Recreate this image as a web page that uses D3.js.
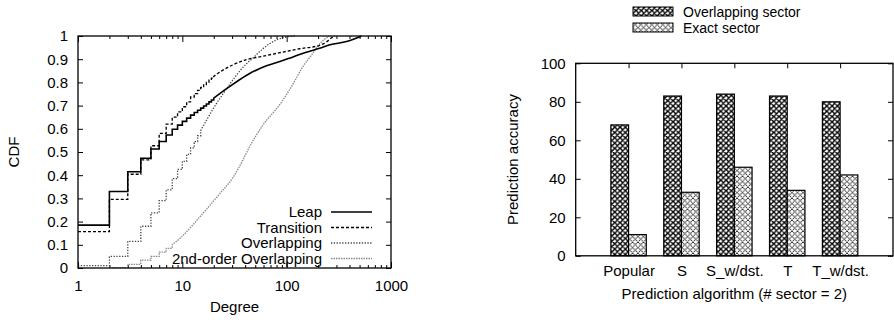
<!DOCTYPE html>
<html>
<head>
<meta charset="utf-8">
<script src="https://cdn.jsdelivr.net/npm/d3@7/dist/d3.min.js"></script>
<style>
  html, body { margin: 0; padding: 0; background: #fff; }
  svg { display: block; font-family: "Liberation Sans", Arial, Helvetica, sans-serif; }
  text { fill: #000; }
</style>
</head>
<body>
<svg id="chart" width="894" height="320"></svg>
<script>
// ---------- Left panel: CDF of degree (log x) ----------
// Integer-degree part of each CDF (drawn as steps), then the continuous tail.
const leapStepDeg  = [1, 2, 3, 4, 5, 6, 7, 8, 9, 10, 11, 12, 13, 14, 15, 16, 17, 18, 19, 20];
const leapStepCdf  = [0.185, 0.33, 0.415, 0.473, 0.513, 0.545, 0.573, 0.598, 0.616, 0.632, 0.646, 0.659, 0.670, 0.680, 0.689, 0.698, 0.707, 0.716, 0.724, 0.732];
const leapTailDeg  = [20, 27, 41, 64, 86, 115, 154, 207, 260, 375, 520];
const leapTailCdf  = [0.732, 0.775, 0.83, 0.872, 0.89, 0.91, 0.93, 0.947, 0.962, 0.976, 1.0];

const transStepDeg = [1, 2, 3, 4, 5, 6, 7, 8, 9, 10, 11, 12, 13, 14, 15, 16, 17, 18, 19, 20];
const transStepCdf = [0.157, 0.296, 0.404, 0.466, 0.527, 0.58, 0.62, 0.65, 0.673, 0.695, 0.716, 0.737, 0.752, 0.766, 0.778, 0.789, 0.80, 0.81, 0.818, 0.826];
const transTailDeg = [20, 24.5, 30, 41, 55, 86, 133, 207, 240, 265, 290];
const transTailCdf = [0.826, 0.853, 0.874, 0.898, 0.91, 0.928, 0.945, 0.96, 0.974, 0.99, 1.0];

const overStepDeg  = [1, 2, 3, 4, 5, 6, 7, 8, 9, 10, 11, 12, 13, 14, 15];
const overStepCdf  = [0.01, 0.05, 0.115, 0.18, 0.238, 0.29, 0.337, 0.385, 0.425, 0.46, 0.49, 0.518, 0.545, 0.57, 0.592];
const overTailDeg  = [15, 20, 26.5, 31, 41, 47.5, 59, 80, 100, 120];
const overTailCdf  = [0.592, 0.69, 0.772, 0.815, 0.88, 0.905, 0.945, 0.983, 0.996, 1.0];

const over2StepDeg = [2, 3, 4, 5, 6, 7, 8];
const over2StepCdf = [0.002, 0.016, 0.034, 0.05, 0.068, 0.085, 0.1];
const over2TailDeg = [8, 9.5, 14.7, 22.8, 30.6, 38, 42.6, 59, 86, 114, 143, 178, 207, 256];
const over2TailCdf = [0.1, 0.128, 0.22, 0.32, 0.39, 0.465, 0.51, 0.615, 0.705, 0.79, 0.868, 0.925, 0.966, 1.0];

const cdfSeries = ["Leap", "Transition", "Overlapping", "2nd-order Overlapping"];
const cdfYTicks = [0, 0.1, 0.2, 0.3, 0.4, 0.5, 0.6, 0.7, 0.8, 0.9, 1];
const cdfXTicks = [1, 10, 100, 1000];

// ---------- Right panel: prediction accuracy ----------
const algorithms   = ["Popular", "S", "S_w/dst.", "T", "T_w/dst."];
const overlapAcc   = [68, 83, 84, 83, 80];
const exactAcc     = [11, 33, 46, 34, 42];
const barSeries    = ["Overlapping sector", "Exact sector"];
const accTicks     = [0, 20, 40, 60, 80, 100];

const svg = d3.select("#chart");
const FS = 15;

// ---------- patterns ----------
const defs = svg.append("defs");
const p1 = defs.append("pattern").attr("id", "patOverlap")
  .attr("patternUnits", "userSpaceOnUse").attr("width", 5.3).attr("height", 5.3);
p1.append("rect").attr("width", 5.3).attr("height", 5.3).attr("fill", "#fff");
p1.append("path").attr("d", "M0,0L5.3,5.3M5.3,0L0,5.3M-1,4.3L1,6.3M4.3,-1L6.3,1")
  .attr("stroke", "#000").attr("stroke-width", 1.4).attr("fill", "none");

const p2 = defs.append("pattern").attr("id", "patExact")
  .attr("patternUnits", "userSpaceOnUse").attr("width", 5.5).attr("height", 5.5);
p2.append("rect").attr("width", 5.5).attr("height", 5.5).attr("fill", "#fff");
p2.append("path").attr("d", "M0,0L5.5,5.5M5.5,0L0,5.5")
  .attr("stroke", "#000").attr("stroke-width", 1.1).attr("stroke-dasharray", "1,0.8").attr("fill", "none");

// ================= Left panel =================
const L = { left: 78, right: 391, top: 36, bottom: 268 };
const x1 = d3.scaleLog().domain([1, 1000]).range([L.left, L.right]);
const y1 = d3.scaleLinear().domain([0, 1]).range([L.bottom, L.top]);

const gL = svg.append("g");

// y axis (ticks inside, mirrored on right)
const yAxL = d3.axisLeft(y1).tickValues(cdfYTicks).tickSizeInner(-5).tickSizeOuter(0).tickPadding(10)
  .tickFormat(d => d === 0 || d === 1 ? d3.format("d")(d) : d3.format(".1f")(d));
gL.append("g").attr("transform", `translate(${L.left},0)`).call(yAxL)
  .call(g => g.select(".domain").remove())
  .call(g => g.selectAll("text").attr("font-size", FS).attr("font-family", null))
  .call(g => g.selectAll("line").attr("stroke", "#000"));
const yAxR = d3.axisRight(y1).tickValues(cdfYTicks).tickSizeInner(-5).tickSizeOuter(0).tickFormat("");
gL.append("g").attr("transform", `translate(${L.right},0)`).call(yAxR)
  .call(g => g.select(".domain").remove());

// x axis: major + minor log ticks, bottom and top
const minor = x1.ticks().filter(d => !cdfXTicks.includes(d));
const xAxB = d3.axisBottom(x1).tickValues(cdfXTicks).tickSizeInner(-6).tickSizeOuter(0).tickPadding(12)
  .tickFormat(d3.format("d"));
gL.append("g").attr("transform", `translate(0,${L.bottom})`).call(xAxB)
  .call(g => g.select(".domain").remove())
  .call(g => g.selectAll("text").attr("font-size", FS).attr("font-family", null));
gL.append("g").attr("transform", `translate(0,${L.bottom})`)
  .call(d3.axisBottom(x1).tickValues(minor).tickSizeInner(-3).tickSizeOuter(0).tickFormat(""))
  .call(g => g.select(".domain").remove());
gL.append("g").attr("transform", `translate(0,${L.top})`)
  .call(d3.axisTop(x1).tickValues(cdfXTicks).tickSizeInner(-6).tickSizeOuter(0).tickFormat(""))
  .call(g => g.select(".domain").remove());
gL.append("g").attr("transform", `translate(0,${L.top})`)
  .call(d3.axisTop(x1).tickValues(minor).tickSizeInner(-3).tickSizeOuter(0).tickFormat(""))
  .call(g => g.select(".domain").remove());

// axis titles
gL.append("text").attr("x", (L.left + L.right) / 2).attr("y", 312)
  .attr("text-anchor", "middle").attr("font-size", FS).text("Degree");
gL.append("text").attr("transform", `translate(19,${(L.top + L.bottom) / 2}) rotate(-90)`)
  .attr("text-anchor", "middle").attr("font-size", FS).text("CDF");

// curves
const styles = [
  { stroke: "#000", width: 1.6, dash: null },
  { stroke: "#000", width: 1.3, dash: "3,2" },
  { stroke: "#444", width: 1.3, dash: "1.3,1.5" },
  { stroke: "#8a8a8a", width: 1.3, dash: "1.5,1" }
];
const zip = (a, b) => a.map((d, i) => [d, b[i]]);
const curves = [
  { steps: zip(leapStepDeg, leapStepCdf),   tail: zip(leapTailDeg, leapTailCdf) },
  { steps: zip(transStepDeg, transStepCdf), tail: zip(transTailDeg, transTailCdf) },
  { steps: zip(overStepDeg, overStepCdf),   tail: zip(overTailDeg, overTailCdf) },
  { steps: zip(over2StepDeg, over2StepCdf), tail: zip(over2TailDeg, over2TailCdf) }
];
const stepLine = d3.line().x(d => x1(d[0])).y(d => y1(d[1])).curve(d3.curveStepAfter);
const smoothLine = d3.line().x(d => x1(d[0])).y(d => y1(d[1])).curve(d3.curveMonotoneX);

const gCurves = gL.append("g");
// draw lighter curves first so black ones sit on top
[3, 2, 1, 0].forEach(i => {
  const c = curves[i], s = styles[i];
  const path = stepLine(c.steps) + smoothLine(c.tail).replace(/^M[^LC]*/, "");
  gCurves.append("path").attr("d", path)
    .attr("fill", "none").attr("stroke", s.stroke).attr("stroke-width", s.width)
    .attr("stroke-dasharray", s.dash);
});

// legend
const legY = [212, 227.5, 243, 258.5];
cdfSeries.forEach((name, i) => {
  const s = styles[i];
  gL.append("text").attr("x", 322).attr("y", legY[i]).attr("dy", "0.36em")
    .attr("text-anchor", "end").attr("font-size", FS).text(name);
  gL.append("line").attr("x1", 331).attr("x2", 372).attr("y1", legY[i]).attr("y2", legY[i])
    .attr("stroke", s.stroke).attr("stroke-width", s.width).attr("stroke-dasharray", s.dash);
});

// frame
gL.append("rect").attr("x", L.left).attr("y", L.top)
  .attr("width", L.right - L.left).attr("height", L.bottom - L.top)
  .attr("fill", "none").attr("stroke", "#000").attr("stroke-width", 1.3);

// ================= Right panel =================
const R = { left: 575.7, right: 893, top: 63.3, bottom: 255.8 };
const x2 = d3.scaleLinear().domain([0, algorithms.length + 1]).range([R.left, R.right]);
const y2 = d3.scaleLinear().domain([0, 100]).range([R.bottom, R.top]);
const barW = 0.335;
const gR = svg.append("g");

gR.append("g").attr("transform", `translate(${R.left},0)`)
  .call(d3.axisLeft(y2).tickValues(accTicks).tickSizeInner(-5).tickSizeOuter(0).tickPadding(10))
  .call(g => g.select(".domain").remove())
  .call(g => g.selectAll("text").attr("font-size", FS).attr("font-family", null));
gR.append("g").attr("transform", `translate(${R.right},0)`)
  .call(d3.axisRight(y2).tickValues(accTicks).tickSizeInner(-5).tickSizeOuter(0).tickFormat(""))
  .call(g => g.select(".domain").remove());

const catPos = algorithms.map((d, i) => i + 1);
gR.append("g").attr("transform", `translate(0,${R.top})`)
  .call(d3.axisTop(x2).tickValues(catPos).tickSizeInner(-5).tickSizeOuter(0).tickFormat(""))
  .call(g => g.select(".domain").remove());
gR.append("g").attr("transform", `translate(0,${R.bottom})`)
  .call(d3.axisBottom(x2).tickValues(catPos).tickSize(0).tickPadding(10)
    .tickFormat((d, i) => algorithms[i]))
  .call(g => g.select(".domain").remove())
  .call(g => g.selectAll("text").attr("font-size", FS).attr("font-family", null));

// bars
gR.append("g").selectAll("rect.ov").data(overlapAcc).join("rect")
  .attr("x", (d, i) => x2(i + 1 - barW)).attr("width", x2(barW) - x2(0))
  .attr("y", d => y2(d)).attr("height", d => y2(0) - y2(d))
  .attr("fill", "url(#patOverlap)").attr("stroke", "#000").attr("stroke-width", 1.2);
gR.append("g").selectAll("rect.ex").data(exactAcc).join("rect")
  .attr("x", (d, i) => x2(i + 1)).attr("width", x2(barW) - x2(0))
  .attr("y", d => y2(d)).attr("height", d => y2(0) - y2(d))
  .attr("fill", "url(#patExact)").attr("stroke", "#000").attr("stroke-width", 1.2);

// titles
gR.append("text").attr("x", x2(3)).attr("y", 298.5).attr("text-anchor", "middle")
  .attr("font-size", FS).text("Prediction algorithm (# sector = 2)");
gR.append("text").attr("transform", `translate(518,${(R.top + R.bottom) / 2}) rotate(-90)`)
  .attr("text-anchor", "middle").attr("font-size", FS).text("Prediction accuracy");

// legend
const legPat = ["url(#patOverlap)", "url(#patExact)"];
barSeries.forEach((name, i) => {
  const cy = 11.5 + i * 16;
  gR.append("rect").attr("x", 633).attr("y", cy - 4.5).attr("width", 40).attr("height", 9)
    .attr("fill", legPat[i]).attr("stroke", "#000").attr("stroke-width", 1);
  gR.append("text").attr("x", 683).attr("y", cy).attr("dy", "0.36em")
    .attr("font-size", 14).text(name);
});

// frame
gR.append("rect").attr("x", R.left).attr("y", R.top)
  .attr("width", R.right - R.left).attr("height", R.bottom - R.top)
  .attr("fill", "none").attr("stroke", "#000").attr("stroke-width", 1.3);
</script>
</body>
</html>
